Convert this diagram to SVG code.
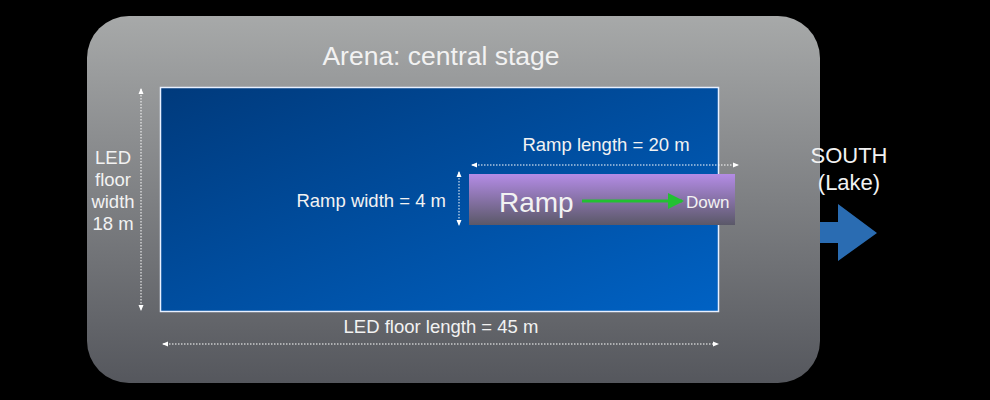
<svg xmlns="http://www.w3.org/2000/svg" width="990" height="400" viewBox="0 0 990 400">
<defs>
<linearGradient id="gArena" x1="0" y1="0" x2="0" y2="1">
<stop offset="0" stop-color="#a7a9a9"/>
<stop offset="1" stop-color="#55575d"/>
</linearGradient>
<linearGradient id="gFloor" x1="0" y1="0" x2="1" y2="1">
<stop offset="0" stop-color="#003a7c"/>
<stop offset="1" stop-color="#0062c4"/>
</linearGradient>
<linearGradient id="gRamp" x1="0" y1="0" x2="0" y2="1">
<stop offset="0" stop-color="#b48ce6"/>
<stop offset="1" stop-color="#5a5868"/>
</linearGradient>
<marker id="ah" markerWidth="6" markerHeight="6" refX="5" refY="3" orient="auto-start-reverse" markerUnits="userSpaceOnUse">
<path d="M0,0.5 L6,3 L0,5.5 Z" fill="#ffffff"/>
</marker>
<marker id="gh" markerWidth="16" markerHeight="16" refX="14" refY="8" orient="auto" markerUnits="userSpaceOnUse">
<path d="M0,0 L16,8 L0,16 Z" fill="#22c032"/>
</marker>
</defs>
<style>
text{font-family:"Liberation Sans",Arial,sans-serif;fill:#f2f2f2;}
.dim{stroke:#ffffff;stroke-width:1;stroke-dasharray:1.5 1.5;fill:none;}
</style>
<rect width="990" height="400" fill="#000000"/>
<g id="arena">
<rect x="87" y="16" width="733" height="367" rx="42" ry="42" fill="url(#gArena)"/>
<text x="441" y="65" font-size="26.5" text-anchor="middle">Arena: central stage</text>
</g>
<g id="floor">
<rect x="160.5" y="87.5" width="558" height="224" fill="url(#gFloor)" stroke="#e8f0ff" stroke-width="1.5"/>
</g>
<g id="ramp">
<rect x="469" y="174" width="266" height="51" fill="url(#gRamp)"/>
<text x="499" y="212" font-size="28">Ramp</text>
<text x="686" y="208" font-size="17">Down</text>
</g>
<g id="south">
<text x="849" y="163" font-size="22" text-anchor="middle">SOUTH</text>
<text x="849" y="190" font-size="22" text-anchor="middle">(Lake)</text>
<path d="M820,222 L838,222 L838,204 L877,233 L838,261 L838,243 L820,243 Z" fill="#2a6cb2"/>
</g>
<g id="labels">
<text x="113" y="164" font-size="18.5" text-anchor="middle">LED</text>
<text x="113" y="186" font-size="18.5" text-anchor="middle">floor</text>
<text x="113" y="208" font-size="18.5" text-anchor="middle">width</text>
<text x="113" y="230" font-size="18.5" text-anchor="middle">18 m</text>
<text x="441" y="333" font-size="18.5" text-anchor="middle">LED floor length = 45 m</text>
<text x="606" y="151" font-size="18.5" text-anchor="middle">Ramp length = 20 m</text>
<text x="446" y="207" font-size="18.5" text-anchor="end">Ramp width = 4 m</text>
</g>
<g id="connectors">
<line class="dim" x1="141" y1="89" x2="141" y2="310" marker-start="url(#ah)" marker-end="url(#ah)"/>
<line class="dim" x1="163" y1="344" x2="718" y2="344" marker-start="url(#ah)" marker-end="url(#ah)"/>
<line class="dim" x1="472" y1="165" x2="738" y2="165" marker-start="url(#ah)" marker-end="url(#ah)"/>
<line class="dim" x1="459" y1="172" x2="459" y2="225" marker-start="url(#ah)" marker-end="url(#ah)"/>
<line x1="582" y1="201" x2="682" y2="201" stroke="#22c032" stroke-width="3" marker-end="url(#gh)"/>
</g>
</svg>
